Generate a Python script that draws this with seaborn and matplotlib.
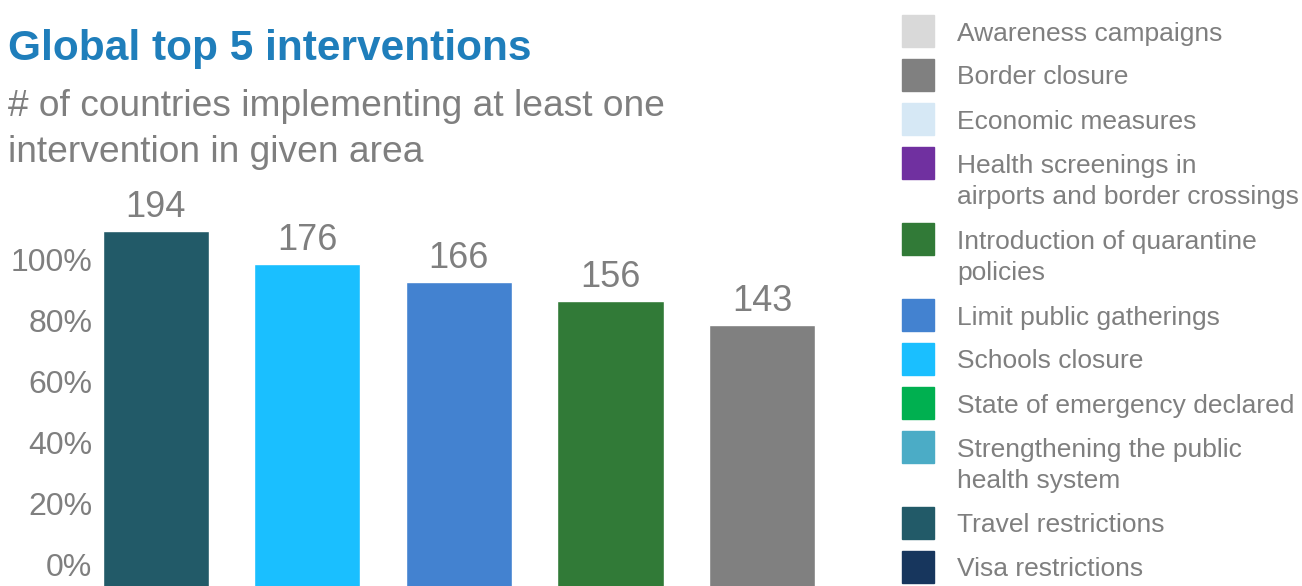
import seaborn as sns
import matplotlib.pyplot as plt
from matplotlib.patches import Rectangle

# data
interventions = ["Travel restrictions", "Schools closure", "Limit public gatherings",
                 "Introduction of quarantine policies", "Border closure"]
counts = [194, 176, 166, 156, 143]
bar_colors = ["#225A68", "#1ABFFF", "#4382D0", "#317A37", "#808080"]

pct_ticks = [0, 20, 40, 60, 80, 100]

legend_labels = ["Awareness campaigns", "Border closure", "Economic measures",
                 "Health screenings in\nairports and border crossings",
                 "Introduction of quarantine\npolicies",
                 "Limit public gatherings", "Schools closure",
                 "State of emergency declared",
                 "Strengthening the public\nhealth system",
                 "Travel restrictions", "Visa restrictions"]
legend_colors = ["#D9D9D9", "#808080", "#D6E8F5", "#7030A0", "#317A37", "#4382D0",
                 "#1ABFFF", "#00B050", "#4BACC6", "#225A68", "#17365D"]

sns.set_theme(style="white")
plt.rcParams["font.family"] = ["Liberation Sans", "DejaVu Sans"]
grey = "#7F7F7F"

W, H = 1302, 586
fig = plt.figure(figsize=(W / 100, H / 100), dpi=100)
ax = fig.add_axes([95 / W, -2.5 / H, (838 - 95) / W, (588.5 - 180) / H])

sns.barplot(x=interventions, y=counts, hue=interventions, palette=bar_colors,
            width=0.7, saturation=1, legend=False, ax=ax)
ax.set_xlim(-0.4, 4.5)
ax.set_ylim(0, 221.6)
for c in ax.containers:
    ax.bar_label(c, fontsize=26, color=grey, padding=4.5)

ax.set_xticks([])
ax.set_yticks([])
ax.set_xlabel("")
ax.set_ylabel("")
sns.despine(ax=ax, left=True, bottom=True)

# percentage scale on the left, offset like in the original slide
sec = ax.secondary_yaxis("left", functions=(lambda c: (c - 12.75) / 1.655,
                                            lambda p: p * 1.655 + 12.75))
sec.set_yticks(pct_ticks, labels=[f"{p}%" for p in pct_ticks])
sec.tick_params(length=0, pad=2, labelsize=23, labelcolor=grey)
sec.spines["left"].set_visible(False)

fig.text(8 / W, 1 - 60 / H, "Global top 5 interventions", fontsize=30.5,
         fontweight="bold", color="#1F7EBB", va="baseline")
fig.text(8 / W, 1 - 89.5 / H, "# of countries implementing at least one\nintervention in given area",
         fontsize=26.7, color=grey, va="top", linespacing=1.4)

# legend drawn by hand so the boxes line up with the first text line
y = 31
for lab, col in zip(legend_labels, legend_colors):
    fig.patches.append(Rectangle((902 / W, 1 - (y + 16) / H), 32 / W, 32 / H,
                                 color=col, transform=fig.transFigure))
    fig.text(957 / W, 1 - (y - 9.5) / H, lab, fontsize=19, color=grey,
             va="top", linespacing=1.4)
    y += 44 + 32 * lab.count("\n")

fig.savefig("out.png", dpi=100)
